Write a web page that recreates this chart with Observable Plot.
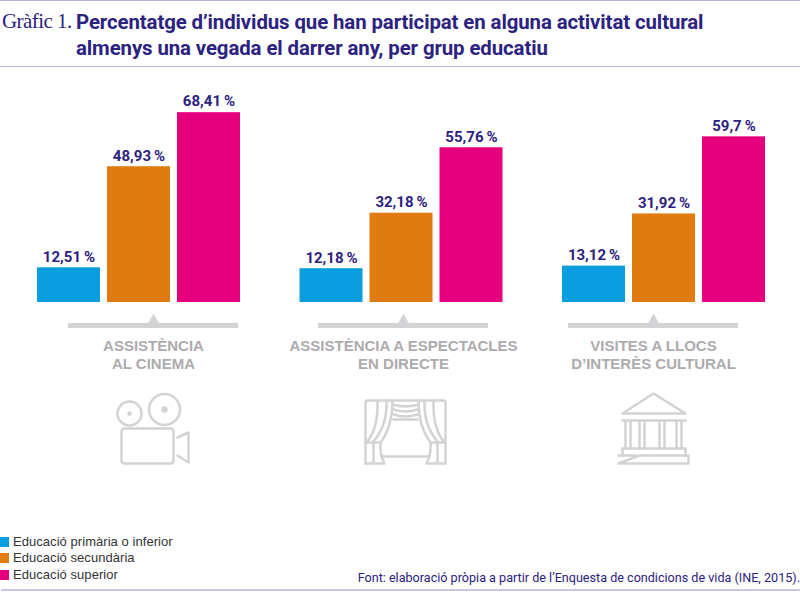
<!DOCTYPE html>
<html lang="ca">
<head>
<meta charset="utf-8">
<script src="https://cdn.jsdelivr.net/npm/d3@7"></script>
<script src="https://cdn.jsdelivr.net/npm/@observablehq/plot@0.6"></script>
<style>
html,body{margin:0;padding:0;background:#fff;}
#page{position:relative;width:800px;height:596px;overflow:hidden;}
#head{position:absolute;left:0;top:0;width:800px;border-top:1px solid #b5b0dc;border-bottom:1px solid #b5b0dc;box-sizing:content-box;height:65px;}
#kicker{position:absolute;left:2px;top:8px;font:21px/24px "Liberation Serif",serif;color:#2c2280;letter-spacing:-.55px;white-space:nowrap;}
#title{position:absolute;left:76px;top:8px;font:700 20.4px/26px Roboto,sans-serif;color:#2c2280;letter-spacing:-.1px;white-space:nowrap;}
#bars{position:absolute;left:0;top:67px;}
#cats{position:absolute;left:0;top:310px;}
#legend{position:absolute;left:0;top:533.5px;font:13px/16.5px "Liberation Sans",sans-serif;color:#333;letter-spacing:.05px;}
.row{display:flex;align-items:center;height:16.5px;white-space:nowrap;}
.sw{display:inline-block;width:9px;height:10px;margin-right:4px;}
#source{position:absolute;right:0;top:570px;font:12.6px/16px Roboto,sans-serif;color:#2c2280;white-space:nowrap;}
#foot{position:absolute;left:1px;right:0;top:589px;height:2px;background:#c9c6e6;}
svg{display:block;}
</style>
</head>
<body>
<div id="page">
  <div id="head">
    <div id="kicker"></div>
    <div id="title"></div>
  </div>
  <div id="bars"></div>
  <div id="cats"></div>
  <div id="legend"></div>
  <div id="source"></div>
  <div id="foot"></div>
</div>
<script>
const kicker = "Gràfic 1.";
const titleLines = [
  "Percentatge d’individus que han participat en alguna activitat cultural",
  "almenys una vegada el darrer any, per grup educatiu"
];
const source = "Font: elaboració pròpia a partir de l’Enquesta de condicions de vida (INE, 2015).";
const groups = ["cinema", "directe", "llocs"];
const groupLabels = ["ASSISTÈNCIA\nAL CINEMA", "ASSISTÈNCIA A ESPECTACLES\nEN DIRECTE", "VISITES A LLOCS\nD’INTERÈS CULTURAL"];
const levels = ["Educació primària o inferior", "Educació secundària", "Educació superior"];
const colors = ["#0a9ddf", "#e07b10", "#e6007e"];
const primaria = [12.51, 12.18, 13.12];
const secundaria = [48.93, 32.18, 31.92];
const superior = [68.41, 55.76, 59.7];

const gray = "#d3d2d4";
const wrap = body => "data:image/svg+xml," + encodeURIComponent(
  `<svg xmlns="http://www.w3.org/2000/svg" viewBox="0 0 96 96" width="96" height="96"><g fill="none" stroke="${gray}" stroke-width="2.5" stroke-linejoin="round" stroke-linecap="round">${body}</g></svg>`);
const iconCamera = wrap(`<circle cx="24" cy="33" r="12"/><circle cx="24" cy="33" r="1" fill="${gray}"/><circle cx="59" cy="29" r="15.5"/><circle cx="59" cy="29" r="3.2" fill="${gray}" stroke="none"/><rect x="16" y="48" width="52" height="35" rx="3"/><path d="M72 57L83 52V82L72 75"/>`);
const iconStage = wrap(`<path d="M10 83V22Q10 20 12 20H88Q90 20 90 22V83"/><path d="M22 20Q23 48 11 62M31 20Q32 46 17 62M37 20Q37 46 25 62"/><path d="M78 20Q77 48 89 62M69 20Q68 46 83 62M63 20Q63 46 75 62"/><path d="M37 24Q50 28 63 24M38 29Q50 33 62 29M38 34Q50 38 62 34M38 39H62"/><path d="M10 62H25Q24 74 29 83H10M18 62V83"/><path d="M90 62H75Q76 74 71 83H90M82 62V83"/><path d="M26 76H74"/>`);
const iconTemple = wrap(`<path d="M48 13L17 33H80Z"/><path d="M17 40H80"/><path d="M20 41V68M25 41V68M34 41V68M39 41V68M54 41V68M59 41V68M71 41V68M76 41V68"/><path d="M17 75V68H80V75"/><path d="M13 75H30M34 75H83V83H13Z"/>`);
const icons = [iconCamera, iconStage, iconTemple];

document.getElementById("kicker").textContent = kicker;
document.getElementById("title").innerHTML = titleLines.join("<br>");
document.getElementById("source").textContent = source;
document.getElementById("legend").innerHTML = levels.map((l, i) =>
  `<div class="row"><span class="sw" style="background:${colors[i]}"></span>${l}</div>`).join("");

const series = [primaria, secundaria, superior];
const rows = groups.flatMap((g, i) => levels.map((l, j) => ({group: g, level: l, value: series[j][i]})));
const fmt = v => String(v).replace(".", ",") + "\u2009%";

const barsChart = Plot.plot({
  width: 800, height: 240,
  marginTop: 13, marginBottom: 5, marginLeft: 37, marginRight: 35,
  style: {background: "transparent"},
  fx: {domain: groups, axis: null, paddingInner: 0.2267, paddingOuter: 0, round: false, label: null},
  x: {domain: levels, axis: null, paddingInner: 0.1, paddingOuter: 0, round: false},
  y: {domain: [0, 80], axis: null},
  color: {domain: levels, range: colors},
  marks: [
    Plot.barY(rows, {fx: "group", x: "level", y: "value", fill: "level"}),
    Plot.text(rows, {fx: "group", x: "level", y: "value", text: d => fmt(d.value), dy: -11,
      fill: "#2c2280", fontSize: 15, fontWeight: 700, fontFamily: "Roboto, sans-serif", letterSpacing: "-0.3px"})
  ]
});
document.getElementById("bars").append(barsChart);

const cats = groups.map((g, i) => ({group: g, label: groupLabels[i], icon: icons[i]}));
const catChart = Plot.plot({
  width: 800, height: 175,
  marginTop: 0, marginBottom: 0, marginLeft: 28, marginRight: 22,
  style: {background: "transparent"},
  x: {domain: groups, axis: null, paddingInner: 0.32, paddingOuter: 0.16, round: false},
  y: {domain: [0, 1], range: [15, 16], axis: null},
  marks: [
    Plot.tickY(cats, {x: "group", y: () => 0, stroke: "#d3d2d4", strokeWidth: 5}),
    Plot.dot(cats, {x: "group", y: () => 0, symbol: "triangle", r: 5, fill: "#d3d2d4", dy: -4}),
    Plot.text(cats, {x: "group", y: () => 0, text: "label", dy: 12.5, lineAnchor: "top", lineHeight: 1.2,
      fill: "#adabad", fontSize: 15, fontWeight: 700, fontFamily: "Liberation Sans, sans-serif", letterSpacing: "0.15px"}),
    Plot.image(cats, {x: "group", y: () => 0, src: "icon", width: 96, height: 96, dy: 103})
  ]
});
document.getElementById("cats").append(catChart);
</script>
</body>
</html>
